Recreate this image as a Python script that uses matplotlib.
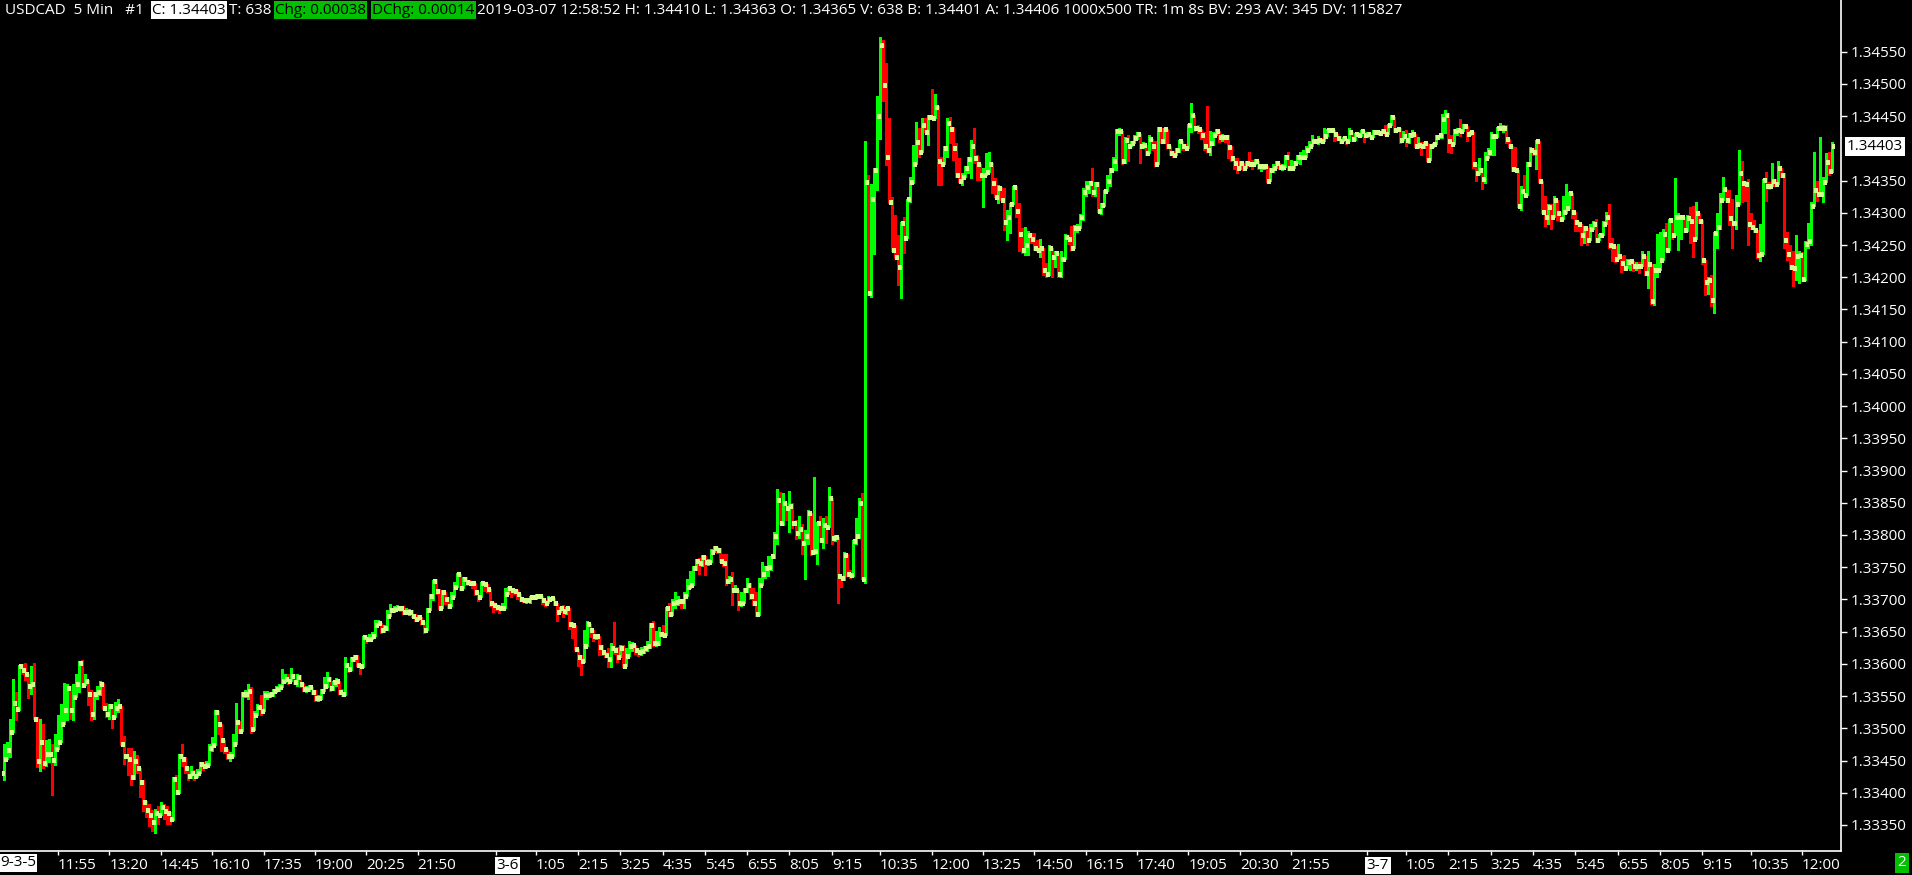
import numpy as np
import matplotlib.pyplot as plt
from matplotlib.transforms import blended_transform_factory

plt.rcParams['font.family'] = ['Open Sans', 'DejaVu Sans']
plt.rcParams['font.size'] = 11

# USDCAD 5 min bars, 2019-03-05 10:25 .. 2019-03-07 12:55
# prices stored as (price - 1.33) * 1e5
close_pts = [
    452, 467, 495, 539, 530, 596, 590, 585, 565, 568,
    515, 449, 478, 446, 460, 460, 451, 468, 479, 506,
    528, 563, 528, 549, 569, 601, 567, 574, 553, 522,
    554, 556, 569, 531, 522, 535, 517, 532, 534, 475,
    457, 452, 425, 449, 439, 416, 385, 374, 365, 354,
    369, 366, 378, 372, 369, 360, 422, 401, 457, 452,
    438, 426, 430, 426, 430, 444, 442, 443, 470, 474,
    525, 507, 482, 468, 457, 457, 476, 510, 496, 553,
    553, 558, 499, 520, 533, 527, 551, 552, 553, 558,
    561, 564, 573, 577, 574, 581, 572, 579, 569, 561,
    561, 564, 557, 547, 547, 558, 565, 577, 562, 572,
    574, 557, 553, 599, 592, 608, 610, 599, 596, 641,
    638, 639, 644, 660, 664, 652, 655, 675, 684, 685,
    687, 686, 680, 681, 681, 675, 670, 673, 665, 652,
    684, 705, 728, 713, 687, 712, 700, 690, 703, 720,
    739, 718, 731, 727, 726, 725, 712, 704, 726, 724,
    716, 694, 691, 688, 687, 687, 708, 717, 714, 713,
    709, 700, 699, 699, 703, 703, 705, 705, 699, 694,
    701, 702, 694, 681, 687, 682, 686, 662, 660, 623,
    610, 605, 627, 662, 652, 643, 644, 626, 619, 614,
    608, 624, 622, 610, 624, 597, 612, 628, 629, 622,
    618, 620, 624, 628, 661, 632, 633, 646, 645, 687,
    677, 694, 696, 698, 697, 706, 720, 722, 749, 760,
    757, 766, 758, 758, 774, 780, 777, 760, 757, 728,
    731, 714, 715, 694, 695, 715, 722, 705, 694, 677,
    722, 740, 749, 750, 767, 799, 854, 818, 850, 842,
    845, 818, 803, 809, 787, 799, 834, 773, 775, 818,
    792, 816, 812, 857, 795, 797, 736, 734, 769, 740,
    738, 791, 798, 850, 732, 1347, 1175, 1321, 1366, 1450,
    1561, 1498, 1386, 1317, 1242, 1232, 1216, 1284, 1261, 1321,
    1347, 1375, 1410, 1395, 1436, 1426, 1448, 1447, 1464, 1380,
    1376, 1401, 1440, 1430, 1400, 1358, 1350, 1355, 1370, 1384,
    1404, 1385, 1375, 1359, 1359, 1363, 1375, 1346, 1325, 1339,
    1320, 1285, 1293, 1313, 1340, 1303, 1267, 1243, 1250, 1265,
    1259, 1246, 1242, 1246, 1211, 1205, 1245, 1232, 1237, 1205,
    1228, 1263, 1260, 1245, 1277, 1277, 1294, 1332, 1340, 1346,
    1333, 1344, 1303, 1312, 1334, 1350, 1366, 1381, 1427, 1427,
    1381, 1413, 1403, 1409, 1416, 1423, 1403, 1405, 1393, 1415,
    1403, 1375, 1430, 1412, 1430, 1404, 1393, 1390, 1397, 1411,
    1403, 1401, 1436, 1452, 1431, 1430, 1421, 1403, 1397, 1409,
    1421, 1427, 1418, 1418, 1417, 1402, 1385, 1377, 1369, 1377,
    1369, 1378, 1376, 1375, 1381, 1372, 1372, 1372, 1349, 1367,
    1369, 1377, 1371, 1371, 1387, 1369, 1369, 1377, 1386, 1386,
    1387, 1397, 1404, 1411, 1412, 1413, 1412, 1419, 1429, 1429,
    1422, 1416, 1411, 1416, 1411, 1426, 1415, 1422, 1420, 1427,
    1420, 1422, 1418, 1426, 1426, 1424, 1427, 1422, 1436, 1448,
    1429, 1430, 1413, 1419, 1413, 1420, 1422, 1403, 1405, 1403,
    1408, 1382, 1404, 1406, 1418, 1420, 1446, 1452, 1412, 1406,
    1427, 1429, 1427, 1434, 1422, 1425, 1376, 1362, 1367, 1353,
    1385, 1395, 1419, 1419, 1431, 1431, 1431, 1414, 1404, 1368,
    1367, 1311, 1334, 1327, 1376, 1398, 1395, 1412, 1350, 1301,
    1293, 1309, 1294, 1320, 1299, 1290, 1301, 1307, 1330, 1301,
    1285, 1282, 1265, 1276, 1257, 1275, 1282, 1257, 1265, 1283,
    1294, 1250, 1248, 1229, 1233, 1222, 1214, 1223, 1225, 1218,
    1218, 1217, 1233, 1206, 1220, 1163, 1211, 1211, 1226, 1267,
    1242, 1289, 1265, 1293, 1293, 1293, 1273, 1292, 1287, 1260,
    1300, 1288, 1226, 1192, 1195, 1165, 1269, 1278, 1320, 1337,
    1320, 1292, 1284, 1314, 1362, 1346, 1344, 1283, 1278, 1274,
    1235, 1236, 1351, 1342, 1341, 1349, 1345, 1369, 1359, 1258,
    1236, 1216, 1215, 1233, 1234, 1198, 1251, 1256, 1310, 1336,
    1329, 1329, 1347, 1379, 1365, 1403,
]
high_pts = [
    476, 479, 514, 577, 557, 598, 600, 601, 585, 596,
    601, 517, 514, 507, 482, 484, 476, 491, 520, 538,
    570, 568, 565, 568, 585, 604, 606, 585, 575, 560,
    557, 565, 574, 570, 539, 537, 537, 541, 545, 533,
    488, 470, 469, 465, 458, 439, 420, 387, 383, 374,
    375, 380, 386, 383, 379, 370, 424, 427, 460, 475,
    455, 440, 442, 436, 437, 447, 448, 450, 476, 486,
    528, 527, 487, 480, 466, 463, 491, 539, 512, 556,
    560, 569, 564, 527, 538, 552, 558, 558, 557, 561,
    565, 568, 592, 584, 584, 594, 585, 584, 582, 570,
    566, 567, 561, 559, 552, 561, 579, 587, 579, 574,
    578, 574, 561, 610, 601, 610, 614, 614, 600, 643,
    645, 646, 650, 668, 668, 655, 660, 684, 693, 690,
    691, 690, 690, 686, 685, 683, 677, 676, 673, 655,
    686, 708, 730, 732, 716, 714, 706, 703, 712, 727,
    741, 737, 735, 735, 730, 729, 722, 710, 727, 725,
    724, 704, 696, 693, 691, 694, 717, 719, 717, 716,
    714, 708, 701, 702, 706, 706, 709, 708, 701, 699,
    706, 704, 699, 694, 689, 691, 689, 665, 665, 650,
    616, 613, 652, 667, 660, 652, 647, 639, 629, 618,
    624, 633, 665, 626, 630, 630, 625, 636, 634, 630,
    624, 626, 628, 636, 664, 667, 651, 657, 660, 689,
    695, 701, 712, 705, 701, 712, 732, 744, 752, 763,
    764, 769, 768, 762, 779, 783, 782, 780, 770, 771,
    736, 743, 722, 701, 712, 717, 734, 725, 717, 712,
    734, 758, 752, 767, 768, 805, 872, 867, 865, 850,
    869, 850, 824, 830, 817, 807, 838, 830, 890, 820,
    830, 826, 830, 875, 857, 800, 797, 737, 773, 771,
    745, 792, 826, 857, 865, 1411, 1359, 1345, 1370, 1481,
    1573, 1568, 1532, 1447, 1325, 1297, 1265, 1286, 1294, 1322,
    1356, 1405, 1441, 1431, 1447, 1447, 1452, 1492, 1485, 1465,
    1387, 1403, 1447, 1448, 1433, 1408, 1385, 1361, 1372, 1387,
    1413, 1431, 1390, 1374, 1369, 1392, 1395, 1377, 1354, 1343,
    1340, 1338, 1304, 1315, 1341, 1341, 1315, 1276, 1278, 1271,
    1268, 1268, 1258, 1259, 1245, 1222, 1250, 1236, 1240, 1237,
    1240, 1267, 1265, 1280, 1281, 1283, 1298, 1338, 1350, 1350,
    1369, 1347, 1347, 1315, 1336, 1358, 1369, 1387, 1430, 1432,
    1386, 1418, 1420, 1412, 1420, 1425, 1423, 1410, 1400, 1421,
    1415, 1411, 1433, 1432, 1432, 1411, 1404, 1396, 1401, 1413,
    1411, 1406, 1438, 1470, 1452, 1436, 1424, 1426, 1465, 1427,
    1425, 1430, 1424, 1422, 1420, 1420, 1403, 1385, 1385, 1380,
    1378, 1381, 1395, 1382, 1383, 1375, 1375, 1376, 1372, 1369,
    1376, 1381, 1378, 1375, 1390, 1394, 1382, 1380, 1390, 1395,
    1397, 1404, 1411, 1421, 1415, 1419, 1416, 1431, 1430, 1431,
    1424, 1422, 1419, 1418, 1415, 1431, 1426, 1424, 1425, 1429,
    1427, 1426, 1424, 1429, 1428, 1426, 1430, 1436, 1438, 1452,
    1448, 1432, 1431, 1427, 1429, 1424, 1429, 1414, 1417, 1410,
    1410, 1395, 1406, 1409, 1421, 1421, 1453, 1460, 1455, 1421,
    1430, 1431, 1446, 1437, 1424, 1427, 1423, 1375, 1385, 1370,
    1395, 1400, 1426, 1421, 1433, 1439, 1436, 1436, 1409, 1402,
    1402, 1353, 1342, 1358, 1379, 1402, 1400, 1413, 1412, 1326,
    1326, 1313, 1314, 1326, 1301, 1301, 1326, 1345, 1333, 1304,
    1301, 1287, 1282, 1280, 1277, 1283, 1287, 1290, 1267, 1287,
    1301, 1313, 1261, 1233, 1252, 1230, 1235, 1228, 1228, 1223,
    1223, 1223, 1240, 1230, 1240, 1201, 1221, 1267, 1270, 1275,
    1284, 1291, 1270, 1354, 1299, 1297, 1294, 1297, 1309, 1310,
    1317, 1294, 1289, 1203, 1201, 1203, 1270, 1300, 1330, 1355,
    1335, 1335, 1322, 1328, 1397, 1380, 1350, 1353, 1299, 1289,
    1272, 1283, 1353, 1364, 1348, 1378, 1353, 1380, 1370, 1362,
    1270, 1250, 1240, 1265, 1240, 1239, 1256, 1284, 1316, 1395,
    1350, 1417, 1356, 1393, 1395, 1410,
]
low_pts = [
    420, 456, 456, 497, 513, 528, 584, 575, 547, 554,
    515, 440, 433, 438, 441, 448, 396, 443, 470, 487,
    513, 513, 515, 513, 548, 556, 564, 567, 536, 513,
    515, 545, 552, 530, 518, 515, 500, 518, 526, 474,
    445, 428, 412, 422, 430, 394, 371, 363, 348, 340,
    338, 352, 367, 360, 351, 352, 358, 398, 400, 442,
    430, 420, 423, 420, 424, 436, 436, 438, 460, 465,
    480, 491, 465, 462, 452, 450, 457, 491, 493, 496,
    548, 545, 493, 497, 527, 520, 533, 546, 548, 550,
    556, 558, 569, 572, 569, 574, 569, 566, 564, 558,
    556, 558, 553, 543, 543, 546, 558, 564, 558, 560,
    566, 553, 550, 551, 588, 590, 605, 597, 585, 595,
    633, 635, 640, 655, 662, 648, 650, 652, 678, 680,
    683, 682, 677, 678, 676, 672, 667, 668, 662, 648,
    652, 686, 699, 709, 685, 688, 693, 687, 701, 713,
    720, 715, 720, 722, 722, 718, 707, 698, 712, 713,
    712, 690, 681, 683, 679, 684, 703, 714, 704, 708,
    701, 698, 696, 695, 694, 700, 701, 702, 693, 690,
    694, 699, 691, 666, 680, 673, 678, 654, 640, 621,
    597, 583, 603, 636, 642, 636, 639, 613, 613, 610,
    595, 595, 616, 603, 618, 595, 605, 618, 620, 616,
    612, 614, 617, 620, 624, 628, 628, 630, 642, 645,
    675, 676, 687, 691, 686, 686, 705, 718, 722, 745,
    740, 752, 738, 754, 761, 774, 772, 758, 752, 722,
    726, 691, 712, 683, 690, 694, 712, 700, 691, 674,
    676, 735, 734, 737, 745, 764, 786, 817, 815, 823,
    804, 811, 793, 795, 771, 731, 786, 769, 771, 755,
    789, 780, 787, 838, 786, 790, 695, 720, 730, 737,
    733, 737, 786, 795, 731, 725, 1172, 1170, 1236, 1336,
    1415, 1474, 1374, 1315, 1240, 1230, 1188, 1167, 1237, 1263,
    1317, 1346, 1390, 1387, 1418, 1425, 1405, 1446, 1447, 1343,
    1343, 1382, 1387, 1408, 1382, 1356, 1348, 1343, 1356, 1361,
    1354, 1377, 1351, 1351, 1309, 1361, 1372, 1330, 1325, 1315,
    1320, 1273, 1258, 1268, 1315, 1294, 1240, 1237, 1234, 1234,
    1253, 1242, 1240, 1232, 1203, 1201, 1203, 1200, 1216, 1200,
    1201, 1240, 1252, 1243, 1250, 1270, 1289, 1289, 1326, 1331,
    1326, 1326, 1301, 1298, 1310, 1341, 1341, 1375, 1366, 1420,
    1375, 1378, 1381, 1405, 1408, 1415, 1378, 1400, 1390, 1400,
    1398, 1372, 1375, 1408, 1409, 1400, 1390, 1386, 1392, 1394,
    1398, 1398, 1400, 1425, 1427, 1424, 1415, 1397, 1394, 1389,
    1405, 1420, 1410, 1412, 1410, 1385, 1380, 1368, 1362, 1368,
    1366, 1376, 1373, 1368, 1376, 1368, 1365, 1368, 1348, 1353,
    1363, 1370, 1368, 1367, 1372, 1366, 1366, 1373, 1383, 1375,
    1385, 1392, 1399, 1407, 1408, 1407, 1409, 1414, 1424, 1426,
    1412, 1413, 1409, 1412, 1407, 1421, 1412, 1413, 1417, 1419,
    1410, 1418, 1416, 1421, 1422, 1421, 1424, 1420, 1422, 1436,
    1426, 1427, 1409, 1414, 1404, 1409, 1418, 1402, 1400, 1390,
    1400, 1380, 1392, 1402, 1414, 1416, 1416, 1424, 1395, 1392,
    1407, 1421, 1419, 1429, 1412, 1421, 1370, 1350, 1360, 1337,
    1346, 1390, 1390, 1390, 1418, 1429, 1426, 1409, 1402, 1365,
    1365, 1309, 1304, 1326, 1343, 1372, 1390, 1368, 1348, 1299,
    1280, 1282, 1275, 1295, 1289, 1287, 1294, 1299, 1326, 1292,
    1272, 1272, 1250, 1253, 1250, 1260, 1279, 1255, 1260, 1277,
    1284, 1245, 1225, 1224, 1228, 1208, 1211, 1218, 1211, 1210,
    1211, 1206, 1228, 1204, 1184, 1159, 1157, 1201, 1223, 1240,
    1240, 1267, 1260, 1289, 1243, 1260, 1270, 1272, 1253, 1232,
    1289, 1284, 1221, 1172, 1174, 1155, 1145, 1245, 1275, 1320,
    1316, 1281, 1245, 1275, 1343, 1316, 1318, 1250, 1275, 1270,
    1230, 1225, 1245, 1319, 1337, 1343, 1341, 1346, 1355, 1245,
    1226, 1213, 1187, 1196, 1191, 1194, 1196, 1245, 1250, 1333,
    1319, 1328, 1316, 1348, 1358, 1363,
]
first_open_pts = 430

price_ticks = [1.3335, 1.3340, 1.3345, 1.3350, 1.3355, 1.3360, 1.3365, 1.3370,
               1.3375, 1.3380, 1.3385, 1.3390, 1.3395, 1.3400, 1.3405, 1.3410,
               1.3415, 1.3420, 1.3425, 1.3430, 1.3435, 1.3445, 1.3450, 1.3455]
time_idx = [18, 35, 52, 69, 86, 103, 120, 137, 163, 176, 190, 204, 218, 232,
            246, 260, 274, 290, 307, 324, 341, 358, 375, 392, 409, 426, 451,
            464, 478, 492, 506, 520, 534, 548, 562, 578, 595]
time_labels = ['11:55', '13:20', '14:45', '16:10', '17:35', '19:00', '20:25',
               '21:50', '3-6', '1:05', '2:15', '3:25', '4:35', '5:45', '6:55',
               '8:05', '9:15', '10:35', '12:00', '13:25', '14:50', '16:15',
               '17:40', '19:05', '20:30', '21:55', '3-7', '1:05', '2:15',
               '3:25', '4:35', '5:45', '6:55', '8:05', '9:15', '10:35', '12:00']
last_price = 1.34403

assert len(close_pts) == len(high_pts) == len(low_pts) == 606

base = 1.33
close = base + np.array(close_pts) / 1e5
high = base + np.array(high_pts) / 1e5
low = base + np.array(low_pts) / 1e5
opn = np.r_[base + first_open_pts / 1e5, close[:-1]]
idx = np.arange(len(close))
cols = np.where(close >= opn, '#00ff00', '#ff0000')

W, H = 1912, 875
fig = plt.figure(figsize=(W / 100, H / 100), dpi=100, facecolor='black')
ax = fig.add_axes([0, 24 / H, 1841 / W, 851 / H])
ax.set_facecolor('black')

top = np.maximum(high, np.maximum(opn, close))
bot = np.minimum(low, np.minimum(opn, close))
ax.vlines(idx, bot, top, colors=cols, lw=0.75, antialiased=False)
tick_col = '#d2ff8c'
ax.hlines(opn, idx - 0.5, idx, colors=tick_col, lw=2.2, antialiased=False)
ax.hlines(close, idx, idx + 0.5, colors=tick_col, lw=2.2, antialiased=False)

ax.set_xlim(-1.19, 607.9)
ax.set_ylim(1.333096, 1.346302)

for s in ['top', 'left']:
    ax.spines[s].set_visible(False)
for s in ['right', 'bottom']:
    ax.spines[s].set_color('white')
    ax.spines[s].set_linewidth(1.2)

ax.yaxis.tick_right()
ax.set_yticks(price_ticks, ['%.5f' % p for p in price_ticks])
ax.tick_params(axis='y', colors='white', length=4, width=1, pad=3, labelsize=11)
ax.set_xticks(time_idx, time_labels)
ax.tick_params(axis='x', colors='white', length=3, width=1, pad=2, labelsize=11)
for lbl in ax.get_xticklabels():
    lbl.set_ha('left')
    if '-' in lbl.get_text():
        lbl.set_color('black')
        lbl.set_bbox(dict(facecolor='white', edgecolor='none', pad=1))

# current price marker on the price scale
tr = blended_transform_factory(fig.transFigure, ax.transData)
ax.text(1847 / W, last_price, '1.34403', transform=tr, color='black', fontsize=11,
        va='center', ha='left', bbox=dict(facecolor='white', edgecolor='none', pad=1.5),
        clip_on=False)

# first date label and bottom-right marker
fig.text(0, 12 / H, '9-3-5', color='black', fontsize=11, va='center', ha='left',
         bbox=dict(facecolor='white', edgecolor='none', pad=1))
fig.text(1902 / W, 12 / H, '2', color='white', fontsize=11, va='center', ha='center',
         bbox=dict(facecolor='#00c000', edgecolor='none', pad=2))

# header line
hy = 1 - 10 / H
fig.text(5 / W, hy, 'USDCAD  5 Min   #1', color='white', fontsize=11, va='center')
fig.text(152 / W, hy, 'C: 1.34403', color='black', fontsize=11, va='center',
         bbox=dict(facecolor='white', edgecolor='none', pad=1))
fig.text(229 / W, hy, 'T: 638', color='white', fontsize=11, va='center')
fig.text(275 / W, hy, 'Chg: 0.00038', color='black', fontsize=11, va='center',
         bbox=dict(facecolor='#00c000', edgecolor='none', pad=1))
fig.text(372 / W, hy, 'DChg: 0.00014', color='black', fontsize=11, va='center',
         bbox=dict(facecolor='#00c000', edgecolor='none', pad=1))
fig.text(477 / W, hy, '2019-03-07 12:58:52 H: 1.34410 L: 1.34363 O: 1.34365 V: 638 '
         'B: 1.34401 A: 1.34406 1000x500 TR: 1m 8s BV: 293 AV: 345 DV: 115827',
         color='white', fontsize=11, va='center')

fig.savefig('out.png', dpi=100, facecolor='black')
